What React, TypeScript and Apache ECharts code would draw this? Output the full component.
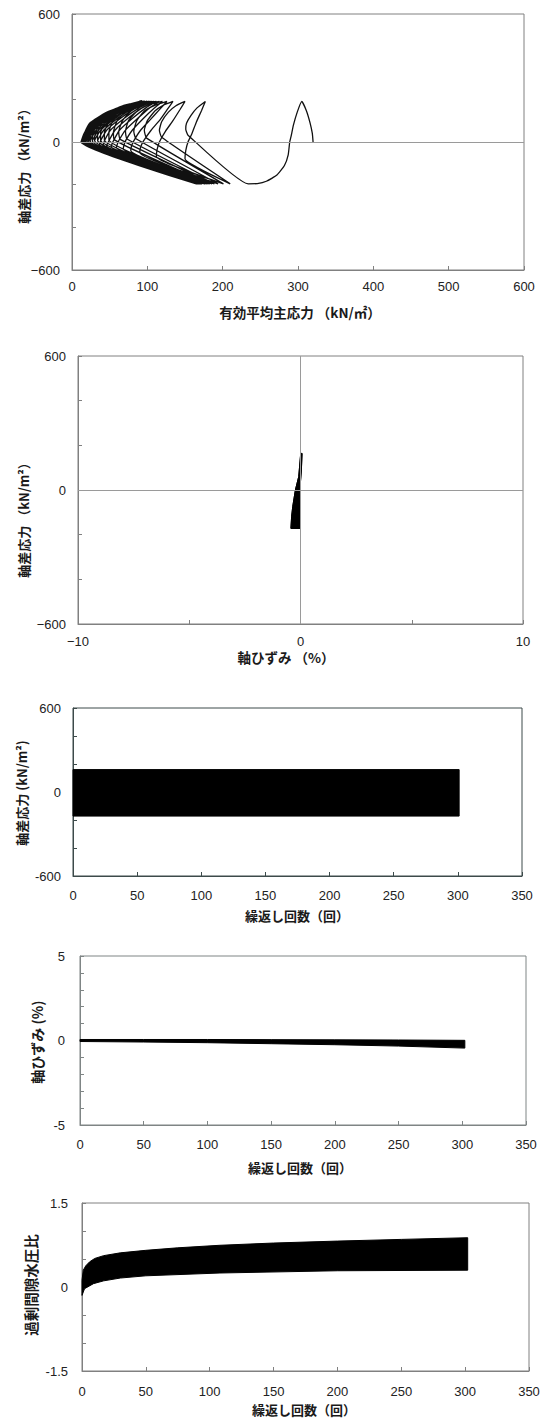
import React, { useEffect, useRef } from 'react';
import * as echarts from 'echarts';

// ---------- Chart 1: effective stress path (p', q) ----------
const stressPath: number[][] = [
  [320, 0], [319, 40], [316, 90], [311, 148], [305, 190],
  [299, 140], [294, 80], [291, 30], [289, 0], [287, -60], [282, -110], [272, -155], [258, -184], [246, -195], [234, -196],
  [154, 32], [151, 60], [152, 88], [158, 125], [166, 160], [177, 190],
  [172, 148], [165, 93], [159, 38], [154, 0], [151, -40], [150, -79], [210, -196],
  [119, 22], [116, 55], [119, 95], [128, 140], [138, 170], [150, 190],
  [143, 150], [134, 100], [124, 50], [116, 0], [113, -35], [112, -68], [201, -196],
  [99, 18], [96, 55], [100, 100], [110, 145], [121, 172], [134, 190],
  [127, 155], [117, 105], [105, 55], [95, 5], [91, -25], [90, -50], [194, -196],
  [85, 15], [82, 50], [86, 100], [96, 145], [110, 172], [126, 190],
  [117, 155], [104, 105], [91, 55], [82, 5], [79, -20], [78, -40], [189, -196],
  [73, 14], [71, 50], [75, 100], [87, 147], [101, 174], [120, 190],
  [109, 158], [94, 108], [80, 55], [71, 5], [69, -15], [68, -32], [186, -196],
  [64, 12], [62, 48], [67, 100], [79, 148], [95, 175], [116, 190],
  [103, 160], [87, 110], [71, 56], [62, 6], [60, -12], [59, -26], [183, -196],
  [56, 11], [55, 46], [60, 100], [73, 148], [89, 175], [112, 190],
  [98, 160], [80, 110], [63, 55], [55, 6], [53, -10], [52, -22], [181, -196],
  [49, 10], [49, 45], [54, 98], [67, 146], [84, 175], [109, 190],
  [93, 160], [74, 110], [57, 55], [49, 6], [47, -8], [46, -19], [179, -196],
  [43, 9], [43, 44], [49, 96], [62, 144], [80, 174], [106, 190],
  [89, 160], [69, 110], [51, 55], [43, 6], [42, -7], [41, -16], [177, -196],
  [38, 8], [38, 43], [44, 95], [58, 143], [77, 173], [104, 190],
  [86, 162], [65, 112], [46, 55], [38, 6], [37, -6], [36, -13], [176, -196],
  [34, 7], [34, 42], [41, 94], [55, 142], [74, 172], [102, 190],
  [83, 162], [61, 112], [42, 55], [34, 6], [173, -196],
  [30, 6], [31, 42], [38, 94], [53, 141], [72, 172], [100, 190],
  [80, 163], [58, 113], [38, 55], [30, 6], [172, -196],
  [27, 5], [28, 41], [35, 94], [51, 141], [70, 171], [99, 190],
  [78, 163], [55, 113], [35, 55], [27, 5], [171, -196],
  [24, 5], [26, 41], [33, 93], [50, 140], [69, 171], [97, 190],
  [75, 163], [52, 113], [32, 55], [24, 5], [170, -196],
  [22, 4], [24, 41], [31, 93], [49, 140], [68, 171], [96, 190],
  [73, 163], [49, 113], [29, 55], [22, 4], [170, -196],
  [20, 4], [22, 40], [30, 93], [48, 140], [68, 171], [95, 190],
  [71, 163], [47, 113], [27, 55], [20, 4], [169, -196],
  [18, 3], [21, 40], [29, 93], [48, 140], [69, 171], [94, 190],
  [69, 163], [45, 113], [25, 54], [18, 3], [169, -196],
  [17, 3], [20, 40], [28, 93], [48, 140], [70, 171], [93, 190],
  [67, 163], [43, 113], [24, 54], [17, 3], [168, -196],
  [16, 3], [19, 40], [28, 93], [48, 140], [70, 171], [93, 190],
  [66, 163], [42, 113], [23, 54], [16, 3], [168, -196],
  [15, 2], [18, 40], [27, 93], [48, 140], [71, 171], [92, 190],
  [65, 163], [41, 113], [22, 54], [15, 2], [167, -196],
  [14, 2], [17, 40], [26, 93], [48, 140], [71, 171], [92, 190],
  [64, 163], [40, 113], [21, 54], [14, 2], [167, -196],
  [13, 1], [17, 40], [26, 93], [48, 140], [71, 171], [91, 190],
  [63, 163], [39, 113], [20, 53], [13, 1], [166, -196],
  [13, 0], [17, 40], [26, 93], [48, 140], [72, 171], [91, 190],
  [62, 163], [38, 113], [20, 53], [13, 0], [166, -196],
  [13, 0], [16, 38], [24, 90], [45, 138], [70, 170], [90, 190],
  [70, 168], [50, 135], [32, 95], [19, 45], [13, 3], [165, -196],
  [13, 0], [18, 42], [27, 95], [50, 142], [73, 172], [92, 190],
  [66, 160], [45, 125], [28, 85], [17, 35], [13, 2], [167, -196],
  [14, 1], [19, 44], [29, 98], [52, 144], [74, 173], [93, 190],
  [68, 165], [47, 130], [30, 90], [18, 40], [14, 1], [168, -196],
  [13, 0], [17, 41], [25, 92], [47, 139], [71, 170], [91, 190],
  [64, 158], [43, 120], [26, 78], [16, 30], [13, 0], [166, -196],
  [12, 0], [16, 40], [26, 94], [49, 141], [72, 171], [92, 190],
  [60, 150], [40, 110], [24, 65], [15, 22], [12, 0], [169, -196],
];

// ---------- Chart 2: stress-strain outline (strain %, q) ----------
const strain2 = [0.07, 0.04, -0.03, -0.02, 0.0, -0.43, -0.40, -0.35, -0.23, -0.08, 0.01];
const dev2 = [164, 90, 0, -90, -172, -172, -120, -75, 0, 60, 164];

// ---------- Chart 3: deviator stress envelope vs cycles ----------
const cycles3 = [0, 301];
const upper3 = [160, 160];
const lower3 = [-172, -172];

// ---------- Chart 4: axial strain envelope vs cycles ----------
const cycles4 = [0, 50, 100, 150, 200, 250, 302];
const upper4 = [0.06, 0.06, 0.06, 0.05, 0.04, 0.03, 0.01];
const lower4 = [-0.06, -0.09, -0.13, -0.19, -0.25, -0.33, -0.45];

// ---------- Chart 5: excess pore pressure ratio envelope ----------
const cycles5Up = [0, 1, 3, 6, 10, 17, 30, 50, 75, 108, 150, 200, 250, 302];
const upper5 = [0.12, 0.3, 0.38, 0.45, 0.51, 0.56, 0.61, 0.655, 0.7, 0.745, 0.785, 0.82, 0.85, 0.88];
const cycles5Lo = [0, 2, 9, 17, 30, 50, 108, 200, 302];
const lower5 = [-0.15, -0.03, 0.06, 0.11, 0.16, 0.2, 0.25, 0.29, 0.3];

const xTicks1 = [0, 100, 200, 300, 400, 500, 600];
const xTicksN = [0, 50, 100, 150, 200, 250, 300, 350];

const FONT_NUM = "'Liberation Sans', Arial, sans-serif";
const FONT_JP = "'Noto Sans CJK JP', 'Noto Sans CJK SC', sans-serif";

function band(xs: number[], up: number[], xsLo: number[], lo: number[]) {
  const pts: number[][] = [];
  xs.forEach((x, i) => pts.push([x, up[i]]));
  for (let i = xsLo.length - 1; i >= 0; i--) pts.push([xsLo[i], lo[i]]);
  return pts;
}

function polygonSeries(idx: number, pts: number[][], smooth = 0) {
  return {
    type: 'custom',
    xAxisIndex: idx,
    yAxisIndex: idx,
    silent: true,
    data: [[pts[0][0], pts[0][1]]],
    renderItem: (_p: any, api: any) => ({
      type: 'polygon',
      shape: { points: pts.map((p) => api.coord(p)), smooth },
      style: { fill: '#000', stroke: '#000', lineWidth: 1 },
    }),
  };
}

function labelSet(vals: number[], minus: string) {
  return (v: number) => {
    for (const t of vals) {
      if (Math.abs(v - t) < 1e-9) return t < 0 ? minus + String(-t) : String(t);
    }
    return '';
  };
}

export default function App() {
  const ref = useRef<HTMLDivElement>(null);
  useEffect(() => {
    if (!ref.current) return;
    const chart = echarts.init(ref.current, undefined, { renderer: 'svg' });

    const grids = [
      { left: 72, top: 14, width: 452, height: 256 },
      { left: 78, top: 356, width: 445, height: 268 },
      { left: 73, top: 708, width: 449, height: 168 },
      { left: 80, top: 956, width: 446, height: 169 },
      { left: 82, top: 1203, width: 447, height: 168 },
    ];
    const frameColors = ['#808080', '#808080', '#3c4a4a', '#7f8585', '#808080'];

    const xCfg = [
      { min: 0, max: 600, interval: 100, fmt: labelSet(xTicks1, '−'), margin: 10 },
      { min: -10, max: 10, interval: 5, fmt: labelSet([-10, 0, 10], '−'), margin: 11 },
      { min: 0, max: 350, interval: 50, fmt: labelSet(xTicksN, '-'), margin: 13 },
      { min: 0, max: 350, interval: 50, fmt: labelSet(xTicksN, '-'), margin: 13 },
      { min: 0, max: 350, interval: 50, fmt: labelSet(xTicksN, '-'), margin: 14 },
    ];
    const yCfg = [
      { min: -600, max: 600, interval: 200, fmt: labelSet([-600, 0, 600], '−'), margin: 12 },
      { min: -600, max: 600, interval: 200, fmt: labelSet([-600, 0, 600], '−'), margin: 12 },
      { min: -600, max: 600, interval: 200, fmt: labelSet([-600, 0, 600], '-'), margin: 12 },
      { min: -5, max: 5, interval: 1, fmt: labelSet([-5, 0, 5], '-'), margin: 15 },
      { min: -1.5, max: 1.5, interval: 0.5, fmt: labelSet([-1.5, 0, 1.5], '-'), margin: 14 },
    ];

    const axisCommon = (i: number, c: any) => ({
      type: 'value',
      gridIndex: i,
      min: c.min,
      max: c.max,
      interval: c.interval,
      axisLine: { show: true, onZero: false, lineStyle: { color: frameColors[i], width: 1 } },
      axisTick: { show: true, inside: true, length: 4, lineStyle: { color: frameColors[i] } },
      axisLabel: {
        formatter: c.fmt,
        color: '#222',
        fontSize: 13,
        fontFamily: FONT_NUM,
        margin: c.margin,
        showMinLabel: true,
        showMaxLabel: true,
      },
      splitLine: { show: false },
    });

    const names = [
      { t: '軸差応力 （kN/m²）', x: 23, y: 163, r: true, s: 13 },
      { t: '有効平均主応力 （kN/㎡）', x: 300, y: 312, r: false, s: 13.5 },
      { t: '軸差応力 （kN/m²）', x: 23, y: 517, r: true, s: 13 },
      { t: '軸ひずみ （%）', x: 286, y: 657, r: false, s: 13.5 },
      { t: '軸差応力 (kN/m²)', x: 21, y: 793, r: true, s: 13 },
      { t: '繰返し回数（回）', x: 297, y: 915, r: false, s: 13 },
      { t: '軸ひずみ (%)', x: 37, y: 1042, r: true, s: 14 },
      { t: '繰返し回数（回）', x: 300, y: 1167, r: false, s: 13 },
      { t: '過剰間隙水圧比', x: 30, y: 1285, r: true, s: 14.5 },
      { t: '繰返し回数（回）', x: 304, y: 1409, r: false, s: 13 },
    ];

    const zeroLine = (data: any[]) => ({
      silent: true,
      symbol: 'none',
      label: { show: false },
      lineStyle: { color: '#9a9a9a', width: 1, type: 'solid' },
      data,
    });

    chart.setOption({
      animation: false,
      grid: grids.map((g, i) => ({
        ...g,
        show: true,
        borderColor: frameColors[i],
        borderWidth: 1,
        backgroundColor: 'transparent',
      })),
      xAxis: xCfg.map((c, i) => axisCommon(i, c)),
      yAxis: yCfg.map((c, i) => axisCommon(i, c)),
      graphic: names.map((n) => ({
        type: 'text',
        x: n.x,
        y: n.y,
        rotation: n.r ? Math.PI / 2 : 0,
        style: {
          text: n.t,
          fontSize: n.s,
          fontWeight: 'bold',
          fontFamily: FONT_JP,
          fill: '#1a1a1a',
          align: 'center',
          verticalAlign: 'middle',
        },
      })),
      series: [
        {
          type: 'line',
          xAxisIndex: 0,
          yAxisIndex: 0,
          data: stressPath,
          showSymbol: false,
          symbol: 'none',
          smooth: 0.15,
          lineStyle: { color: '#111', width: 1.3 },
          markLine: zeroLine([{ yAxis: 0 }]),
          z: 3,
        },
        polygonSeries(1, strain2.map((s, i) => [s, dev2[i]])),
        {
          type: 'line',
          xAxisIndex: 1,
          yAxisIndex: 1,
          data: strain2.map((s, i) => [s, dev2[i]]),
          showSymbol: false,
          symbol: 'none',
          lineStyle: { color: '#000', width: 1 },
          markLine: zeroLine([{ yAxis: 0 }, { xAxis: 0 }]),
          z: 1,
        },
        polygonSeries(2, band(cycles3, upper3, cycles3, lower3)),
        polygonSeries(3, band(cycles4, upper4, cycles4, lower4)),
        polygonSeries(4, band(cycles5Up, upper5, cycles5Lo, lower5)),
      ],
    });
    return () => chart.dispose();
  }, []);
  return (
    <div
      ref={ref}
      style={{ position: 'absolute', left: 0, top: 0, width: 547, height: 1419, background: '#fff' }}
    />
  );
}
